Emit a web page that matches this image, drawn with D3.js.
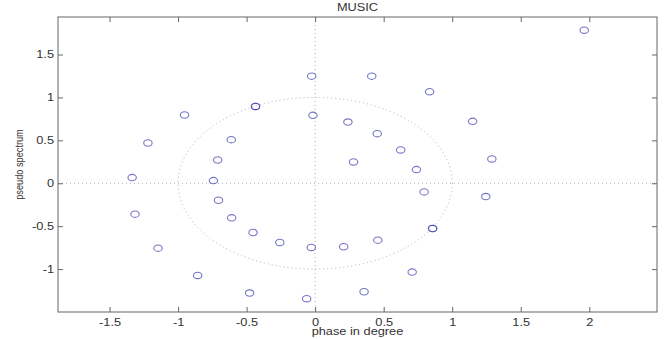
<!DOCTYPE html>
<html>
<head>
<meta charset="utf-8">
<script src="https://cdn.jsdelivr.net/npm/d3@7"></script>
<style>
  body { margin: 0; background: #fff; }
  svg text { font-family: "Liberation Sans", Arial, sans-serif; fill: #333; }
  .wide { transform-box: fill-box; transform-origin: center; transform: scaleX(1.28); }
</style>
</head>
<body>
<div id="chart"></div>
<script>
// pole / zero locations (re = phase, im = pseudo spectrum)
const re = [1.963, -0.025, 0.413, 0.835, -0.435, -0.435, -0.953, -0.016, 0.239, 1.149,
  -1.220, -0.612, 0.453, 0.624, -0.711, 0.280, 1.289, -1.335, -0.742, 0.739,
  0.795, 1.245, -0.705, -1.314, -0.609, 0.857, 0.857, -0.453, 0.457, -0.258,
  -0.028, 0.208, -1.146, 0.708, -0.857, -0.478, 0.357, -0.062];
const im = [1.783, 1.248, 1.248, 1.066, 0.895, 0.895, 0.795, 0.791, 0.713, 0.721,
  0.469, 0.508, 0.578, 0.388, 0.271, 0.248, 0.283, 0.066, 0.031, 0.159,
  -0.101, -0.155, -0.198, -0.360, -0.403, -0.527, -0.527, -0.574, -0.663, -0.690,
  -0.748, -0.740, -0.756, -1.035, -1.074, -1.279, -1.264, -1.345];
const xTicks = [-1.5, -1, -0.5, 0, 0.5, 1, 1.5, 2];
const yTicks = [-1, -0.5, 0, 0.5, 1, 1.5];

const width = 667;
const height = 339;
const margin = { top: 17, right: 10, bottom: 27, left: 58 };
const w = width - margin.left - margin.right;
const h = height - margin.top - margin.bottom;

const svg = d3.select("#chart").append("svg")
  .attr("width", width).attr("height", height);

const x = d3.scaleLinear().domain([-1.876, 2.494]).range([0, w]);
const y = d3.scaleLinear().domain([-1.5, 1.937]).range([h, 0]);

const g = svg.append("g").attr("transform", `translate(${margin.left},${margin.top})`);

// dotted reference lines + unit circle
const dots = { stroke: "#b0b0b8", "stroke-width": 1, "stroke-dasharray": "1,3", fill: "none" };
function dotted(sel) { Object.entries(dots).forEach(([k, v]) => sel.attr(k, v)); return sel; }

dotted(g.append("line").attr("x1", 0).attr("x2", w).attr("y1", y(0)).attr("y2", y(0)));
dotted(g.append("line").attr("x1", x(0)).attr("x2", x(0)).attr("y1", 0).attr("y2", h));
dotted(g.append("ellipse")
  .attr("cx", x(0)).attr("cy", y(0))
  .attr("rx", x(1) - x(0)).attr("ry", y(0) - y(1)));

// markers
const pts = re.map((d, i) => [d, im[i]]);
g.selectAll(".pt").data(pts).enter().append("ellipse")
  .attr("class", "pt")
  .attr("cx", d => x(d[0]))
  .attr("cy", d => y(d[1]))
  .attr("rx", 4.2).attr("ry", 3.2)
  .attr("fill", "none")
  .attr("stroke", "#3f3fb0")
  .attr("stroke-opacity", 0.72)
  .attr("stroke-width", 1.1);

// axes, ticks pointing inward like matlab
const fmt = d => String(d);
const axB = g.append("g").attr("transform", `translate(0,${h})`)
  .call(d3.axisBottom(x).tickValues(xTicks).tickFormat(fmt).tickSizeInner(-5).tickSizeOuter(0).tickPadding(7));
const axL = g.append("g")
  .call(d3.axisLeft(y).tickValues(yTicks).tickFormat(fmt).tickSizeInner(-5).tickSizeOuter(0).tickPadding(7));
const axT = g.append("g")
  .call(d3.axisTop(x).tickValues(xTicks).tickFormat("").tickSizeInner(-5).tickSizeOuter(0));
const axR = g.append("g").attr("transform", `translate(${w},0)`)
  .call(d3.axisRight(y).tickValues(yTicks).tickFormat("").tickSizeInner(-5).tickSizeOuter(0));

[axB, axL, axT, axR].forEach(a => {
  a.select(".domain").remove();
  a.selectAll(".tick line").attr("stroke", "#666");
  a.selectAll("text").attr("font-size", 10).attr("fill", "#333")
    .attr("font-family", "Liberation Sans, Arial, sans-serif").attr("class", "wide");
});
axL.selectAll("text").attr("x", -4).style("transform-origin", "right center");

g.append("rect").attr("width", w).attr("height", h)
  .attr("fill", "none").attr("stroke", "#666").attr("stroke-width", 1);

// titles
svg.append("text").attr("class", "wide")
  .attr("x", margin.left + w / 2).attr("y", 11)
  .attr("text-anchor", "middle").attr("font-size", 10)
  .text("MUSIC");
svg.append("text").attr("class", "wide")
  .attr("x", margin.left + w / 2).attr("y", 335)
  .attr("text-anchor", "middle").attr("font-size", 10)
  .text("phase in degree");
svg.append("text")
  .attr("transform", `translate(23,${margin.top + h / 2}) rotate(-90) scale(1,1.25)`)
  .attr("text-anchor", "middle").attr("font-size", 9.2)
  .text("pseudo spectrum");
</script>
</body>
</html>
